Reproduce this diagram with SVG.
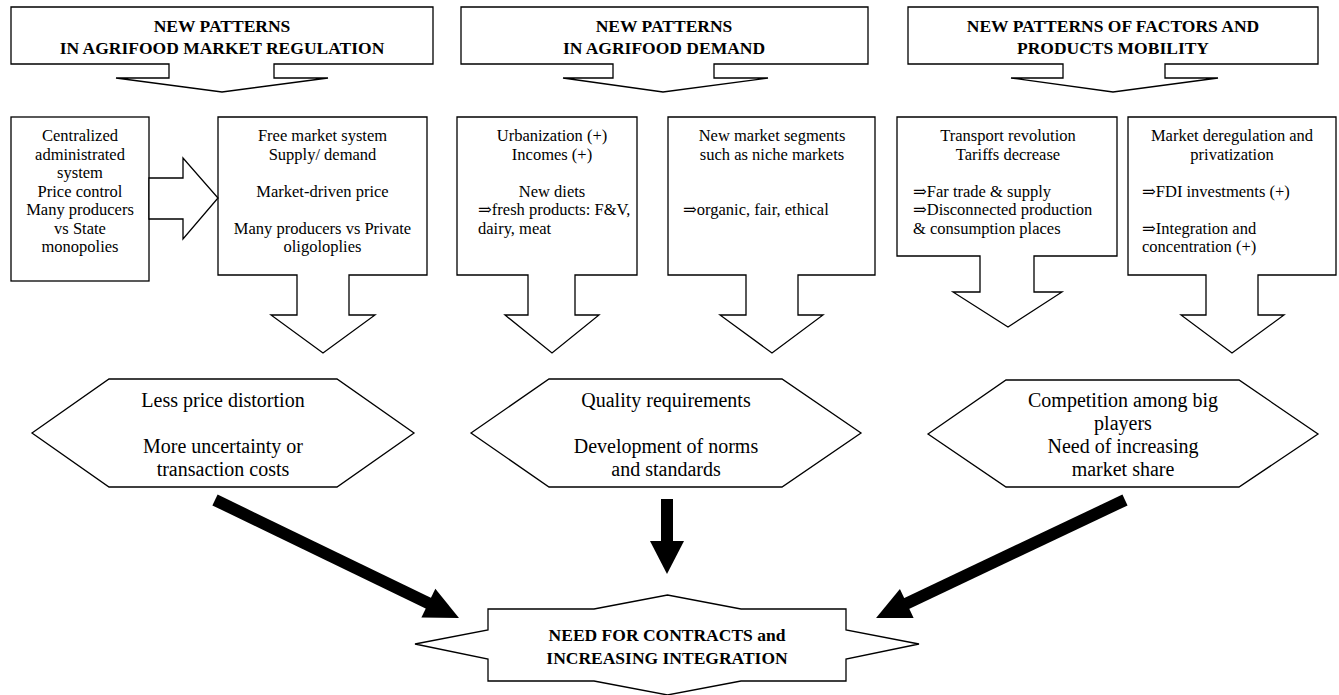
<svg xmlns="http://www.w3.org/2000/svg" width="1339" height="695" viewBox="0 0 1339 695">
<style>
.shape{fill:#fff;stroke:#000;stroke-width:1.3;stroke-linejoin:miter}
.title{font-family:"Liberation Serif","DejaVu Serif",serif;font-weight:bold;font-size:17.5px;fill:#000;text-anchor:middle}
.body{font-family:"Liberation Serif","DejaVu Serif",serif;font-size:16.5px;fill:#000;text-anchor:middle}
.left{text-anchor:start}
.hex{font-family:"Liberation Serif","DejaVu Serif",serif;font-size:20px;fill:#000;text-anchor:middle}
.star{font-family:"Liberation Serif","DejaVu Serif",serif;font-weight:bold;font-size:17.5px;fill:#000;text-anchor:middle}
.thick{fill:#000;stroke:none}
</style>
<rect width="1339" height="695" fill="#fff"/>

<g id="callout-regulation">
<path class="shape" d="M11,7 H433 V64 H274 V78 H328 L222,92 L116,78 H169 V64 H11 Z"/>
<text class="title" x="222" y="32">NEW PATTERNS</text>
<text class="title" x="222" y="54">IN AGRIFOOD MARKET REGULATION</text>
</g>
<g id="callout-demand">
<path class="shape" d="M461,7 H868 V64 H714 V78 H768 L663,92 L563,78 H613 V64 H461 Z"/>
<text class="title" x="664" y="32">NEW PATTERNS</text>
<text class="title" x="664" y="54">IN AGRIFOOD DEMAND</text>
</g>
<g id="callout-mobility">
<path class="shape" d="M908,7 H1318 V64 H1165 V78 H1218 L1113,92 L1011,78 H1063 V64 H908 Z"/>
<text class="title" x="1113" y="32">NEW PATTERNS OF FACTORS AND</text>
<text class="title" x="1113" y="54">PRODUCTS MOBILITY</text>
</g>

<g id="box-centralized">
<rect class="shape" x="11" y="117" width="138" height="164"/>
<text class="body" x="80" y="141">Centralized</text>
<text class="body" x="80" y="159.5">administrated</text>
<text class="body" x="80" y="178">system</text>
<text class="body" x="80" y="196.5">Price control</text>
<text class="body" x="80" y="215">Many producers</text>
<text class="body" x="80" y="233.5">vs State</text>
<text class="body" x="80" y="252">monopolies</text>
</g>
<g id="box-free-market">
<path class="shape" d="M218,117 H427 V275 H349 V315 H375 L323,353 L271,315 H297 V275 H218 Z"/>
<text class="body" x="322.5" y="141">Free market system</text>
<text class="body" x="322.5" y="159.5">Supply/ demand</text>
<text class="body" x="322.5" y="196.5">Market-driven price</text>
<text class="body" x="322.5" y="233.5">Many producers vs Private</text>
<text class="body" x="322.5" y="252">oligoloplies</text>
</g>
<g id="box-urbanization">
<path class="shape" d="M457,117 H637 V275 H575 V315 H599 L552,353 L505,315 H528 V275 H457 Z"/>
<text class="body" x="552" y="141">Urbanization (+)</text>
<text class="body" x="552" y="159.5">Incomes (+)</text>
<text class="body" x="552" y="196.5">New diets</text>
<text class="body left" x="478" y="215">⇒fresh products: F&amp;V,</text>
<text class="body left" x="478" y="233.5">dairy, meat</text>
</g>
<g id="box-segments">
<path class="shape" d="M668,117 H875 V275 H798 V315 H823 L772,353 L720,315 H746 V275 H668 Z"/>
<text class="body" x="772" y="141">New market segments</text>
<text class="body" x="772" y="159.5">such as niche markets</text>
<text class="body left" x="683" y="215">⇒organic, fair, ethical</text>
</g>
<g id="box-transport">
<path class="shape" d="M897,117 H1117 V256 H1034 V292 H1062 L1008,327 L953,292 H980 V256 H897 Z"/>
<text class="body" x="1008" y="141">Transport revolution</text>
<text class="body" x="1008" y="159.5">Tariffs decrease</text>
<text class="body left" x="913" y="196.5">⇒Far trade &amp; supply</text>
<text class="body left" x="913" y="215">⇒Disconnected production</text>
<text class="body left" x="913" y="233.5">&amp; consumption places</text>
</g>
<g id="box-deregulation">
<path class="shape" d="M1128,117 H1336 V275 H1258 V315 H1284 L1232,353 L1181,315 H1206 V275 H1128 Z"/>
<text class="body" x="1232" y="141">Market deregulation and</text>
<text class="body" x="1232" y="159.5">privatization</text>
<text class="body left" x="1142" y="196.5">⇒FDI investments (+)</text>
<text class="body left" x="1142" y="233.5">⇒Integration and</text>
<text class="body left" x="1142" y="252">concentration (+)</text>
</g>

<g id="hex-price">
<polygon class="shape" points="32,433 109,379 337,379 414,433 337,487 109,487"/>
<text class="hex" x="223" y="407">Less price distortion</text>
<text class="hex" x="223" y="453">More uncertainty or</text>
<text class="hex" x="223" y="476">transaction  costs</text>
</g>
<g id="hex-quality">
<polygon class="shape" points="471,433 549,379 782,379 861,433 782,487 549,487"/>
<text class="hex" x="666" y="407">Quality requirements</text>
<text class="hex" x="666" y="453">Development of norms</text>
<text class="hex" x="666" y="476">and standards</text>
</g>
<g id="hex-competition">
<polygon class="shape" points="928,434 1006,380 1239,380 1318,434 1239,487 1006,487"/>
<text class="hex" x="1123" y="407">Competition among big</text>
<text class="hex" x="1123" y="430">players</text>
<text class="hex" x="1123" y="453">Need of increasing</text>
<text class="hex" x="1123" y="476">market share</text>
</g>

<g id="star-contracts">
<polygon class="shape" points="488,609 594,609 667.5,595 741,609 846,609 846,630 919,644 846,659 846,681 741,681 667.5,695 594,681 488,681 488,659 415,644 488,630"/>
<text class="star" x="667" y="641">NEED FOR CONTRACTS and</text>
<text class="star" x="667" y="664">INCREASING INTEGRATION</text>
</g>

<g id="connectors">
<polygon class="shape" points="149,178 183,178 183,158 218,198 183,239 183,219 149,219"/>
<g transform="translate(215,500) rotate(25.8)">
<rect class="thick" x="0" y="-6" width="238" height="12"/>
<polygon class="thick" points="237,-16 271,0 237,16"/>
</g>
<g>
<rect class="thick" x="661" y="499" width="12" height="43"/>
<polygon class="thick" points="650,541 684,541 667,574"/>
</g>
<g transform="translate(1125,500) rotate(154.64)">
<rect class="thick" x="0" y="-6" width="242.5" height="12"/>
<polygon class="thick" points="241.5,-16 275.5,0 241.5,16"/>
</g>
</g>
</svg>
